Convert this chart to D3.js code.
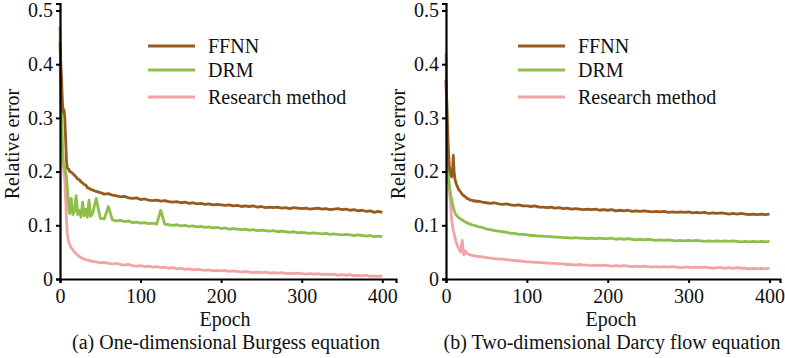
<!DOCTYPE html>
<html>
<head>
<meta charset="utf-8">
<script src="https://cdn.jsdelivr.net/npm/d3@7"></script>
<style>
  html, body { margin: 0; padding: 0; background: #fff; }
</style>
</head>
<body>
<svg id="chart" width="785" height="358" font-family="Liberation Serif"></svg>
<script>
const epochs = [].concat(d3.range(0, 13, 1), d3.range(14, 41, 2), d3.range(45, 401, 5));

const seriesNames = ["FFNN", "DRM", "Research method"];
const seriesColors = ["#975a1f", "#8dbf4b", "#f1a3a6"];

const yTicks = [0, 0.1, 0.2, 0.3, 0.4, 0.5];
const yTickLabels = ["0", "0.1", "0.2", "0.3", "0.4", "0.5"];
const xTicks = [0, 100, 200, 300, 400];

// (a) one-dimensional Burgess equation
const burgersFFNN = [
  0.44, 0.40, 0.37, 0.33, 0.31, 0.315, 0.30, 0.26, 0.22, 0.208, 0.205, 0.204, 0.200,
  0.199, 0.196, 0.193, 0.190, 0.186, 0.185, 0.181, 0.179, 0.176, 0.175, 0.170, 0.169, 0.167, 0.166,
  0.163, 0.161, 0.158, 0.159, 0.156, 0.155, 0.153, 0.154, 0.151, 0.150, 0.151, 0.148,
  0.149, 0.147, 0.146, 0.147, 0.145, 0.146, 0.144, 0.143, 0.144, 0.142, 0.143, 0.141,
  0.142, 0.140, 0.141, 0.139, 0.140, 0.138, 0.139, 0.138, 0.137, 0.138, 0.136, 0.137,
  0.135, 0.136, 0.135, 0.136, 0.134, 0.135, 0.133, 0.134, 0.133, 0.134, 0.132, 0.133,
  0.131, 0.133, 0.132, 0.131, 0.132, 0.130, 0.131, 0.132, 0.130, 0.131, 0.129, 0.130,
  0.131, 0.129, 0.130, 0.128, 0.129, 0.127, 0.128, 0.126, 0.127, 0.124, 0.126, 0.124
];
const burgersDRM = [
  0.47, 0.37, 0.30, 0.25, 0.215, 0.21, 0.205, 0.20, 0.19, 0.17, 0.152, 0.13, 0.122,
  0.15, 0.12, 0.125, 0.155, 0.12, 0.128, 0.115, 0.143, 0.118, 0.13, 0.115, 0.147, 0.117, 0.12,
  0.15, 0.113, 0.112, 0.135, 0.110, 0.108, 0.109, 0.107, 0.108, 0.105, 0.106, 0.104,
  0.105, 0.103, 0.104, 0.102, 0.128, 0.102, 0.101, 0.100, 0.101, 0.099, 0.100, 0.098,
  0.099, 0.097, 0.098, 0.096, 0.097, 0.095, 0.096, 0.094, 0.095, 0.093, 0.094, 0.093,
  0.092, 0.093, 0.091, 0.092, 0.090, 0.091, 0.090, 0.089, 0.090, 0.088, 0.089, 0.088,
  0.087, 0.088, 0.086, 0.087, 0.086, 0.085, 0.086, 0.085, 0.084, 0.085, 0.083, 0.084,
  0.083, 0.082, 0.083, 0.082, 0.081, 0.082, 0.081, 0.080, 0.081, 0.079, 0.080, 0.079
];
const burgersOurs = [
  0.40, 0.33, 0.28, 0.24, 0.21, 0.195, 0.185, 0.15, 0.11, 0.085, 0.075, 0.068, 0.064,
  0.058, 0.054, 0.050, 0.047, 0.044, 0.042, 0.040, 0.038, 0.037, 0.036, 0.035, 0.035, 0.033, 0.033,
  0.032, 0.030, 0.031, 0.029, 0.028, 0.029, 0.027, 0.026, 0.027, 0.025, 0.024, 0.025,
  0.023, 0.024, 0.022, 0.023, 0.021, 0.022, 0.020, 0.021, 0.019, 0.020, 0.018, 0.019,
  0.017, 0.018, 0.017, 0.016, 0.017, 0.015, 0.016, 0.015, 0.016, 0.014, 0.015, 0.014,
  0.013, 0.014, 0.013, 0.012, 0.013, 0.012, 0.013, 0.011, 0.012, 0.011, 0.012, 0.010,
  0.011, 0.010, 0.011, 0.010, 0.009, 0.010, 0.009, 0.010, 0.008, 0.009, 0.008, 0.009,
  0.007, 0.008, 0.007, 0.008, 0.006, 0.007, 0.006, 0.007, 0.005, 0.006, 0.005, 0.006
];

// (b) two-dimensional Darcy flow equation
const darcyFFNN = [
  0.37, 0.33, 0.28, 0.24, 0.212, 0.20, 0.195, 0.19, 0.20, 0.23, 0.20, 0.187, 0.18,
  0.172, 0.166, 0.162, 0.158, 0.155, 0.153, 0.150, 0.149, 0.147, 0.147, 0.145, 0.146, 0.144, 0.145,
  0.143, 0.142, 0.141, 0.142, 0.140, 0.139, 0.140, 0.138, 0.137, 0.138, 0.136, 0.136,
  0.135, 0.136, 0.134, 0.134, 0.133, 0.134, 0.132, 0.133, 0.131, 0.132, 0.130, 0.131,
  0.130, 0.129, 0.130, 0.129, 0.130, 0.128, 0.129, 0.128, 0.129, 0.127, 0.128, 0.127,
  0.128, 0.126, 0.127, 0.126, 0.127, 0.126, 0.125, 0.126, 0.125, 0.126, 0.124, 0.125,
  0.124, 0.125, 0.124, 0.125, 0.123, 0.124, 0.123, 0.124, 0.122, 0.123, 0.122, 0.123,
  0.122, 0.121, 0.122, 0.121, 0.122, 0.121, 0.120, 0.121, 0.120, 0.121, 0.120, 0.121
];
const darcyDRM = [
  0.42, 0.30, 0.22, 0.19, 0.175, 0.165, 0.155, 0.148, 0.14, 0.134, 0.128, 0.124, 0.12,
  0.117, 0.114, 0.112, 0.110, 0.108, 0.106, 0.105, 0.103, 0.102, 0.101, 0.100, 0.099, 0.099, 0.097,
  0.096, 0.093, 0.092, 0.090, 0.089, 0.088, 0.087, 0.085, 0.085, 0.083, 0.083, 0.082,
  0.081, 0.081, 0.080, 0.080, 0.079, 0.079, 0.078, 0.078, 0.077, 0.077, 0.076, 0.077,
  0.076, 0.076, 0.075, 0.076, 0.075, 0.076, 0.075, 0.075, 0.076, 0.074, 0.075, 0.074,
  0.075, 0.074, 0.073, 0.074, 0.073, 0.074, 0.073, 0.072, 0.073, 0.072, 0.073, 0.072,
  0.071, 0.072, 0.071, 0.072, 0.071, 0.072, 0.071, 0.070, 0.071, 0.070, 0.071, 0.070,
  0.071, 0.070, 0.071, 0.070, 0.069, 0.070, 0.069, 0.070, 0.069, 0.070, 0.069, 0.070
];
const darcyOurs = [
  0.37, 0.30, 0.24, 0.20, 0.17, 0.15, 0.13, 0.11, 0.10, 0.09, 0.085, 0.078, 0.072,
  0.062, 0.056, 0.050, 0.072, 0.045, 0.052, 0.047, 0.046, 0.045, 0.044, 0.043, 0.043, 0.042, 0.042,
  0.041, 0.040, 0.039, 0.038, 0.037, 0.037, 0.036, 0.035, 0.034, 0.034, 0.033, 0.032,
  0.032, 0.031, 0.031, 0.030, 0.030, 0.029, 0.029, 0.028, 0.028, 0.027, 0.027, 0.026,
  0.027, 0.026, 0.026, 0.025, 0.026, 0.025, 0.026, 0.025, 0.024, 0.025, 0.024, 0.025,
  0.024, 0.023, 0.024, 0.023, 0.024, 0.023, 0.022, 0.023, 0.022, 0.023, 0.022, 0.023,
  0.022, 0.021, 0.022, 0.022, 0.021, 0.022, 0.021, 0.022, 0.021, 0.020, 0.021, 0.021,
  0.020, 0.021, 0.020, 0.021, 0.020, 0.020, 0.019, 0.020, 0.019, 0.020, 0.019, 0.020
];

const FONT = "Liberation Serif";

const panels = [
  { left: 60, right: 396, xMax: 417, series: [burgersFFNN, burgersDRM, burgersOurs],
    yLabelX: 19, legendX: 148, caption: "(a) One-dimensional Burgess equation", captionX: 226 },
  { left: 446, right: 780, xMax: 413, series: [darcyFFNN, darcyDRM, darcyOurs],
    yLabelX: 405, legendX: 518, caption: "(b) Two-dimensional Darcy flow equation", captionX: 612 }
];

const svg = d3.select("#chart");

const y = d3.scaleLinear().domain([0, 0.513]).range([279, 3.5]);

function label(g, size) {
    return g.append("text")
        .attr("font-family", FONT)
        .attr("style", `font-family:'${FONT}';font-size:${size}px`)
        .attr("fill", "#111");
}

panels.forEach(p => {
    const x = d3.scaleLinear().domain([0, p.xMax]).range([p.left, p.right]);
    const g = svg.append("g");

    const line = d3.line()
        .x((d, i) => x(epochs[i]))
        .y(d => y(d));

    // draw pink first, brown on top
    [2, 1, 0].forEach(k => {
        g.append("path")
            .datum(p.series[k])
            .attr("fill", "none")
            .attr("stroke", seriesColors[k])
            .attr("stroke-width", 2.8)
            .attr("stroke-linejoin", "round")
            .attr("d", line);
    });

    // axes
    const xAxis = g.append("g")
        .attr("transform", `translate(0, ${y(0)})`)
        .call(d3.axisBottom(x).tickValues(xTicks).tickSizeOuter(0).tickSize(4).tickPadding(6));
    const yAxis = g.append("g")
        .attr("transform", `translate(${x(0)}, 0)`)
        .call(d3.axisLeft(y).tickValues(yTicks).tickFormat((d, i) => yTickLabels[i])
            .tickSizeOuter(0).tickSize(4).tickPadding(3));

    [xAxis, yAxis].forEach(a => {
        a.attr("font-family", FONT).attr("font-size", 20);
        a.select(".domain").attr("stroke", "#000").attr("stroke-width", 2.2);
        a.selectAll(".tick line").attr("stroke", "#000").attr("stroke-width", 2);
        a.selectAll(".tick text")
            .attr("style", `font-family:'${FONT}';font-size:20px`)
            .attr("fill", "#111");
    });

    // axis titles
    label(g, 20)
        .attr("text-anchor", "middle")
        .attr("transform", `translate(${p.yLabelX}, 144) rotate(-90)`)
        .text("Relative error");

    label(g, 20)
        .attr("x", p.captionX - 1)
        .attr("y", 326)
        .attr("text-anchor", "middle")
        .text("Epoch");

    label(g, 20)
        .attr("x", p.captionX)
        .attr("y", 349)
        .attr("text-anchor", "middle")
        .text(p.caption);

    // legend
    const legendY = [46, 70, 97];
    seriesNames.forEach((name, k) => {
        g.append("line")
            .attr("x1", p.legendX).attr("x2", p.legendX + 47)
            .attr("y1", legendY[k]).attr("y2", legendY[k])
            .attr("stroke", seriesColors[k])
            .attr("stroke-width", 2.8);
        label(g, 20)
            .attr("x", p.legendX + 60)
            .attr("y", legendY[k] + 7)
            .text(name);
    });
});
</script>
</body>
</html>
